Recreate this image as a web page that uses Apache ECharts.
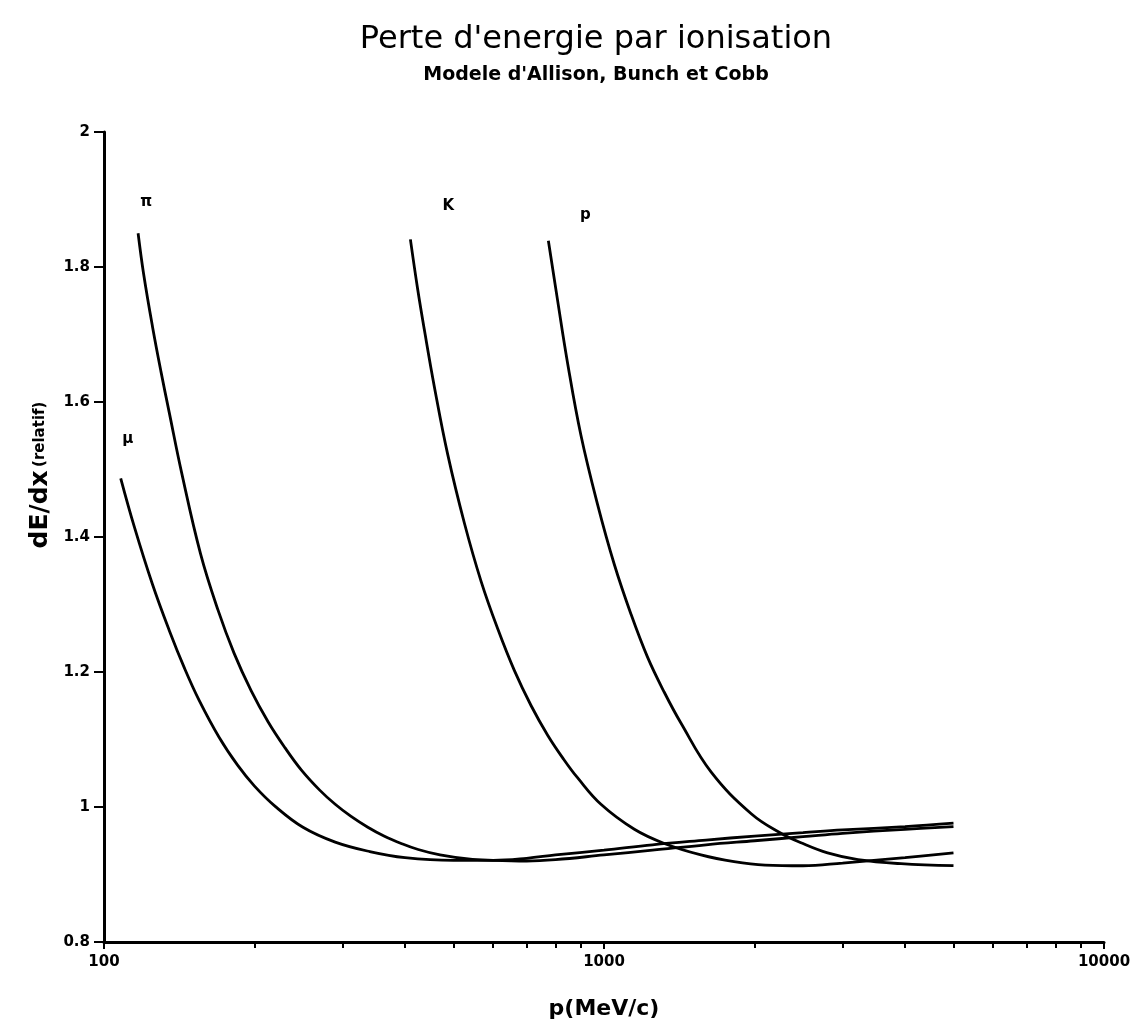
<!DOCTYPE html>
<html>
<head>
<meta charset="UTF-8">
<title>Perte d'energie par ionisation</title>
<script src="https://cdn.jsdelivr.net/npm/echarts@6/dist/echarts.min.js"></script>
</head>
<body style="margin:0;background:#fff">
<div id="container" style="width:1142px;height:1027px"></div>
<script type="text/javascript">
// momentum (MeV/c) and relative dE/dx, one pair of arrays per particle
var muP = [108, 115, 125, 135, 145, 155, 170, 185, 200, 220, 250, 290, 340, 400, 500, 600, 700, 800, 1000, 1250, 1600, 2000, 2500, 3000, 4000, 5000];
var muV = [1.487, 1.415, 1.33, 1.262, 1.205, 1.158, 1.103, 1.062, 1.031, 1.001, 0.970, 0.948, 0.934, 0.925, 0.921, 0.921, 0.924, 0.929, 0.936, 0.944, 0.951, 0.957, 0.962, 0.966, 0.971, 0.976];

var piP = [117, 120, 125, 130, 135, 143, 156, 169, 182, 197, 213, 230, 248, 270, 290, 312, 337, 363, 393, 425, 470, 535, 600, 700, 800, 1000, 1250, 1600, 2000, 2500, 3000, 4000, 5000];
var piV = [1.85, 1.79, 1.712, 1.645, 1.585, 1.495, 1.375, 1.292, 1.228, 1.172, 1.126, 1.088, 1.055, 1.025, 1.004, 0.986, 0.970, 0.957, 0.946, 0.937, 0.929, 0.923, 0.921, 0.920, 0.922, 0.929, 0.936, 0.944, 0.950, 0.956, 0.961, 0.967, 0.971];

var kP = [410, 424, 437, 458, 487, 526, 568, 613, 662, 715, 772, 830, 886, 986, 1150, 1320, 1563, 1820, 2100, 2500, 3000, 4000, 5000];
var kV = [1.841, 1.767, 1.708, 1.622, 1.522, 1.420, 1.334, 1.264, 1.202, 1.150, 1.106, 1.071, 1.043, 1.004, 0.967, 0.946, 0.929, 0.919, 0.914, 0.913, 0.917, 0.925, 0.932];

var prP = [774, 807, 845, 899, 971, 1048, 1132, 1222, 1320, 1426, 1637, 1970, 2259, 2477, 2800, 3221, 3926, 5000];
var prV = [1.839, 1.752, 1.659, 1.551, 1.448, 1.360, 1.286, 1.222, 1.170, 1.124, 1.052, 0.990, 0.961, 0.947, 0.932, 0.922, 0.916, 0.913];

var curveNames = ['\u03bc', '\u03c0', 'K', 'p'];
var majorTicks = [100, 1000, 10000];
var minorTicks = [200, 300, 400, 500, 600, 700, 800, 900, 2000, 3000, 4000, 5000, 6000, 7000, 8000, 9000];

var font = 'DejaVu Sans';
var dom = document.getElementById('container');
var myChart = echarts.init(dom);

function pairs(xs, ys) {
    var res = [];
    for (var i = 0; i < xs.length; i++) {
        res.push([xs[i], ys[i]]);
    }
    return res;
}

// label sits a little above the starting point of each curve
var labelOffsets = [[7, -39], [8, -31], [38, -33], [37, -26]];
var allP = [muP, piP, kP, prP];
var allV = [muV, piV, kV, prV];

var series = [];
curveNames.forEach(function (name, i) {
    series.push({
        name: name,
        type: 'line',
        data: pairs(allP[i], allV[i]),
        showSymbol: false,
        smooth: 0.4,
        lineStyle: { color: '#000', width: 2.8 },
        markPoint: {
            symbol: 'circle',
            symbolSize: 1,
            itemStyle: { color: 'rgba(0,0,0,0)' },
            label: {
                show: true,
                position: 'inside',
                offset: labelOffsets[i],
                formatter: name,
                color: '#000',
                fontFamily: font,
                fontWeight: 'bold',
                fontSize: 15
            },
            data: [{ coord: [allP[i][0], allV[i][0]] }]
        }
    });
});

var option = {
    backgroundColor: '#fff',
    animation: false,
    title: {
        text: 'Perte d\'energie par ionisation',
        subtext: 'Modele d\'Allison, Bunch et Cobb',
        left: 591,
        textAlign: 'center',
        top: 19,
        itemGap: 10,
        textStyle: { color: '#000', fontFamily: font, fontWeight: 'normal', fontSize: 32 },
        subtextStyle: { color: '#000', fontFamily: font, fontWeight: 'bold', fontSize: 19 }
    },
    grid: { left: 104, right: 38, top: 132, bottom: 85 },
    xAxis: [{
        type: 'log',
        logBase: 10,
        min: 100,
        max: 10000,
        name: 'p(MeV/c)',
        nameLocation: 'middle',
        nameGap: 56,
        nameTextStyle: { color: '#000', fontFamily: font, fontWeight: 'bold', fontSize: 22 },
        axisLine: { lineStyle: { color: '#000', width: 3 } },
        axisTick: { inside: false, length: 7, lineStyle: { color: '#000', width: 2 } },
        axisLabel: {
            color: '#000', fontFamily: font, fontWeight: 'bold', fontSize: 15, margin: 13,
            formatter: function (v) { return majorTicks.indexOf(Math.round(v)) >= 0 ? String(Math.round(v)) : ''; }
        },
        splitLine: { show: false },
        minorTick: { show: false }
    }, {
        // overlay axis, only used to draw the 2..9 minor ticks of each decade
        type: 'value',
        min: 2,
        max: 4,
        position: 'bottom',
        axisLine: { show: false },
        axisTick: {
            show: true,
            length: 6,
            customValues: minorTicks.map(function (v) { return Math.log10(v); }),
            lineStyle: { color: '#000', width: 2 }
        },
        axisLabel: { show: false },
        splitLine: { show: false }
    }],
    yAxis: {
        type: 'value',
        min: 0.8,
        max: 2,
        interval: 0.2,
        name: '{big|dE/dx} {small|(relatif)}',
        nameLocation: 'middle',
        nameGap: 50,
        nameRotate: 90,
        nameTextStyle: {
            color: '#000',
            padding: [0, 0, 0, 124],
            rich: {
                big: { fontFamily: font, fontWeight: 'bold', fontSize: 25, color: '#000' },
                small: { fontFamily: font, fontWeight: 'bold', fontSize: 15, color: '#000' }
            }
        },
        axisLine: { show: true, lineStyle: { color: '#000', width: 3 } },
        axisTick: { show: true, inside: false, length: 10, lineStyle: { color: '#000', width: 2 } },
        axisLabel: { color: '#000', fontFamily: font, fontWeight: 'bold', fontSize: 15, margin: 14 },
        splitLine: { show: false }
    },
    series: series
};

myChart.setOption(option, true);
</script>
</body>
</html>
